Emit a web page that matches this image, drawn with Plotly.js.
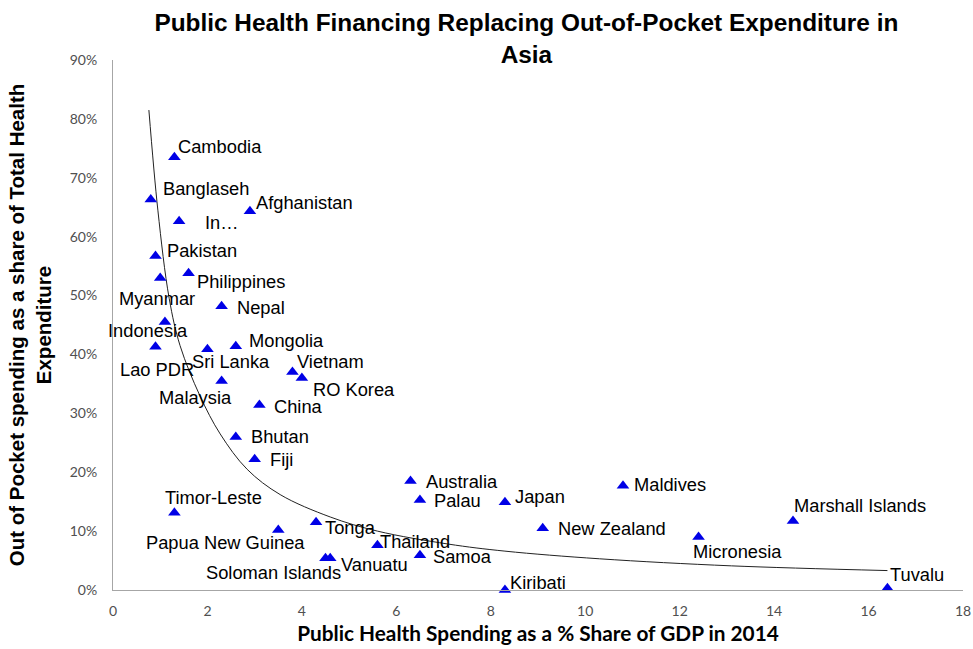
<!DOCTYPE html>
<html>
<head>
<meta charset="utf-8">
<script src="https://cdn.plot.ly/plotly-3.0.1.min.js"></script>
<style>html,body{margin:0;padding:0;background:#fff;}#chart{width:973px;height:649px;}</style>
</head>
<body>
<div id="chart"></div>
<script>
// Data
const countries = ["Cambodia","Banglaseh","In\u2026","Afghanistan","Pakistan","Philippines","Myanmar","Nepal","Indonesia","Mongolia","Lao PDR","Sri Lanka","Vietnam","RO Korea","Malaysia","China","Bhutan","Fiji","Timor-Leste","Papua New Guinea","Tonga","Thailand","Soloman Islands","Vanuatu","Samoa","Australia","Palau","Japan","New Zealand","Maldives","Micronesia","Marshall Islands","Tuvalu","Kiribati"];
const publicSpendingGDP = [1.3,0.8,1.4,2.9,0.9,1.6,1.0,2.3,1.1,2.6,0.9,2.0,3.8,4.0,2.3,3.1,2.6,3.0,1.3,3.5,4.3,5.6,4.5,4.6,6.5,6.3,6.5,8.3,9.1,10.8,12.4,14.4,16.4,8.3];
const outOfPocketShare = [0.735,0.663,0.626,0.643,0.567,0.538,0.530,0.482,0.455,0.414,0.413,0.409,0.370,0.360,0.355,0.314,0.260,0.222,0.131,0.102,0.115,0.076,0.054,0.054,0.059,0.185,0.153,0.149,0.105,0.177,0.090,0.117,0.003,0.000];
// Power trendline, points
const trendX = [0.76,0.95,1.19,1.42,1.84,2.27,2.84,3.54,4.6,5.6,7.1,8.3,10.3,13.1,16.4];
const trendY = [0.815,0.645,0.495,0.415,0.330,0.265,0.205,0.162,0.124,0.100,0.078,0.066,0.053,0.041,0.033];
const xTicks = [0,2,4,6,8,10,12,14,16,18];
const yTicks = [0,0.1,0.2,0.3,0.4,0.5,0.6,0.7,0.8,0.9];

// Label offsets in pixels (layout only)
const labelShift = [[46,11],[55,11],[43,-1],[55,9],[46,6],[52,-8],[-3,-21],[39,-1],[-17,-8],[51,6],[1,-23],[24,-12],[38,11],[52,-11],[-26,-17],[39,-1],[44,0],[27,0],[39,15],[-53,-13],[34,-5],[38,4],[-52,-14],[44,-6],[43,-1],[51,0],[38,-1],[35,6],[69,0],[47,1],[39,-14],[67,16],[30,14],[33,8]];

const annotations = countries.map((c,i)=>({
  x: publicSpendingGDP[i], y: outOfPocketShare[i], xref:'x', yref:'y',
  text: c, showarrow:false, xshift: labelShift[i][0], yshift: labelShift[i][1],
  font:{family:'Liberation Sans, Arial, sans-serif', size:18.3, color:'#000'}
}));

const traces = [
  {x: trendX, y: trendY, mode:'lines', type:'scatter', line:{color:'#222', width:1, shape:'spline', smoothing:1}, hoverinfo:'skip'},
  {x: publicSpendingGDP, y: outOfPocketShare, mode:'markers', type:'scatter', text: countries,
   marker:{symbol:'triangle-up', size:11, color:'#0000e6'}, cliponaxis:false}
];

const layout = {
  width:973, height:649,
  margin:{l:113, r:10, t:60, b:59},
  paper_bgcolor:'#fff', plot_bgcolor:'#fff',
  showlegend:false,
  title:{text:'Public Health Financing Replacing Out-of-Pocket Expenditure in<br>Asia',
         x:0.541, xanchor:'center', y:0.952, yanchor:'top',
         font:{family:'Liberation Sans, Arial, sans-serif', size:24.4, color:'#000', weight:'bold'}},
  xaxis:{range:[0,18], tickvals:xTicks, ticktext:xTicks.map(String), showgrid:false, zeroline:false,
         showline:true, linecolor:'#a6a6a6', linewidth:1, ticks:'outside', ticklen:8, tickcolor:'rgba(0,0,0,0)',
         tickfont:{family:'Lato, sans-serif', size:14, color:'#505050'},
         title:{text:'Public Health Spending as a % Share of GDP in 2014', standoff:8,
                font:{family:'Lato, sans-serif', size:20.8, color:'#000', weight:'bold'}}},
  yaxis:{range:[0,0.9], tickvals:yTicks, tickformat:'.0%', showgrid:false, zeroline:false,
         showline:true, linecolor:'#a6a6a6', linewidth:1, ticks:'outside', ticklen:12, tickcolor:'rgba(0,0,0,0)',
         tickfont:{family:'Lato, sans-serif', size:14, color:'#505050'},
         title:{text:'Out of Pocket spending as a share of Total Health<br>Expenditure', standoff:12,
                font:{family:'Liberation Sans, Arial, sans-serif', size:20.5, color:'#000', weight:'bold'}}},
  annotations: annotations
};

Plotly.newPlot('chart', traces, layout, {displayModeBar:false, staticPlot:true});
</script>
</body>
</html>
